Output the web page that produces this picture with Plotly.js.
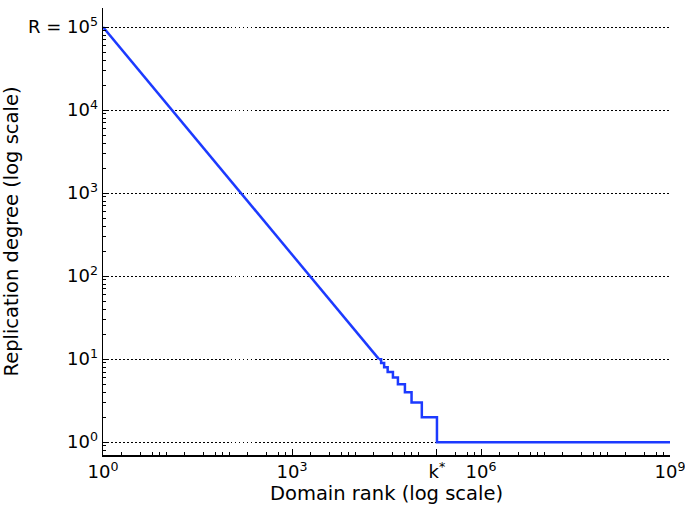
<!DOCTYPE html>
<html>
<head>
<meta charset="utf-8">
<script src="https://cdn.plot.ly/plotly-3.0.1.min.js"></script>
<style>html,body{margin:0;padding:0;background:#fff;} #chart{width:685px;height:506px;}</style>
</head>
<body>
<div id="chart"></div>
<script>
// Diagonal (power-law) part of the curve
const diagRank = [1, 24000];
const diagDegree = [100000, 10];

// Step part of the curve (integer replication degree), then flat at 1
const stepRank = [24000, 26000, 29000, 33000, 40000, 48000, 62000, 79000, 115000, 200000, 1000000000];
const stepDegree = [10, 9, 8, 7, 6, 5, 4, 3, 2, 1, 1];

// Tick labels
const kStar = 200000;
const xTickVals = [1, 1000, kStar, 1000000, 1000000000];
const xTickText = ['10<sup>0</sup>', '10<sup>3</sup>', 'k<sup>*</sup>', '10<sup>6</sup>', '10<sup>9</sup>'];
const yTickVals = [1, 10, 100, 1000, 10000, 100000];
const yTickText = ['10<sup>0</sup>', '10<sup>1</sup>', '10<sup>2</sup>', '10<sup>3</sup>', '10<sup>4</sup>', 'R = 10<sup>5</sup>'];

const lineColor = 'rgb(28,58,255)';

const xMinor = [];
for (let d = 0; d < 9; d++) {
  [2, 4, 6, 8, 10].forEach(m => xMinor.push(m * Math.pow(10, d)));
}

const traces = [
  {x: diagRank, y: diagDegree, type: 'scatter', mode: 'lines',
   line: {color: lineColor, width: 2.5}, showlegend: false, hoverinfo: 'skip'},
  {x: stepRank, y: stepDegree, type: 'scatter', mode: 'lines',
   line: {color: lineColor, width: 2.5, shape: 'hv'}, showlegend: false, hoverinfo: 'skip'}
];

const ff = 'DejaVu Sans, sans-serif';

const layout = {
  width: 685, height: 506,
  margin: {l: 103, r: 15, t: 8, b: 51, pad: 0},
  paper_bgcolor: '#fff', plot_bgcolor: '#fff',
  font: {family: ff, size: 17, color: '#000'},
  showlegend: false,
  xaxis: {
    type: 'log', range: [0, 9], automargin: false,
    tickmode: 'array', tickvals: xTickVals, ticktext: xTickText,
    ticklabeloverflow: 'allow',
    ticks: 'inside', ticklen: 6, tickwidth: 1, tickcolor: '#000',
    showline: true, linecolor: '#000', linewidth: 1.5, mirror: false,
    showgrid: false, zeroline: false,
    tickfont: {family: ff, size: 18, color: '#000'},
    minor: {tickmode: 'array', tickvals: xMinor, ticks: 'inside', ticklen: 3, tickcolor: '#000', showgrid: false},
    title: {text: 'Domain rank (log scale)', font: {family: ff, size: 19.5, color: '#000'}, standoff: 4}
  },
  yaxis: {
    type: 'log', range: [Math.log10(0.7), Math.log10(170000)], automargin: false,
    tickmode: 'array', tickvals: yTickVals, ticktext: yTickText,
    ticklabeloverflow: 'allow',
    ticks: 'inside', ticklen: 6, tickwidth: 1, tickcolor: '#000',
    showline: true, linecolor: '#000', linewidth: 1.5, mirror: false,
    showgrid: true, gridcolor: '#000', gridwidth: 1.2, griddash: '1.5px,2.5px',
    zeroline: false,
    tickfont: {family: ff, size: 18, color: '#000'},
    minor: {dtick: 'D1', ticks: 'inside', ticklen: 3, tickcolor: '#000', showgrid: false},
    title: {text: 'Replication degree (log scale)', font: {family: ff, size: 19.5, color: '#000'}, standoff: 6}
  }
};

Plotly.newPlot('chart', traces, layout, {displayModeBar: false, staticPlot: true});
</script>
</body>
</html>
